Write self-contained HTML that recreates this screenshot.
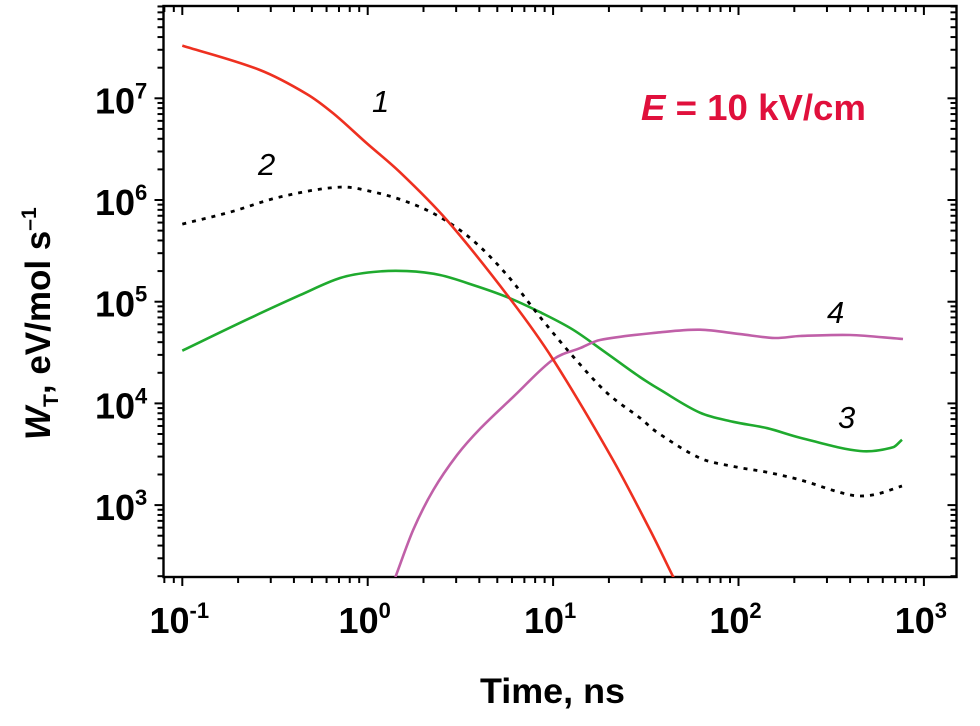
<!DOCTYPE html>
<html><head><meta charset="utf-8"><style>
html,body{margin:0;padding:0;background:#fff;}
svg{display:block;font-family:"Liberation Sans",Arial,sans-serif;}
</style></head><body>
<svg id="chart" width="980" height="726" viewBox="0 0 980 726">
<defs><clipPath id="plotclip"><rect x="163.5" y="6" width="793" height="571"/></clipPath></defs>
<g id="axes"></g>
<g id="series" clip-path="url(#plotclip)"></g>
<text x="372" y="112" font-size="31" font-style="italic">1</text>
<text x="258" y="175" font-size="31" font-style="italic">2</text>
<text x="838" y="428" font-size="31" font-style="italic">3</text>
<text x="827" y="323" font-size="31" font-style="italic">4</text>
<text x="641" y="120" font-size="36" font-weight="bold" fill="#e0103c" textLength="225" lengthAdjust="spacingAndGlyphs"><tspan font-style="italic">E</tspan> = 10 kV/cm</text>
<text x="480" y="703" font-size="35" font-weight="bold" textLength="145" lengthAdjust="spacingAndGlyphs">Time, ns</text>
<text transform="translate(50,440) rotate(-90)" font-size="35" font-weight="bold"><tspan font-style="italic">W</tspan><tspan font-size="21" dy="8">T</tspan><tspan dy="-8">, eV/mol s</tspan><tspan font-size="21" dy="-14">–1</tspan></text>
</svg>
<script>
// ---- data ----
const s1_t = [0.1, 0.262, 0.47, 0.652, 0.99, 1.49, 2.68, 5.93, 10, 21, 33.3, 44.9];
const s1_w = [3.3e7, 1.9e7, 1.1e7, 7.1e6, 3.6e6, 1.88e6, 6.3e5, 1.04e5, 2.7e4, 2.8e3, 570, 190];
const s2_t = [0.1, 0.181, 0.336, 0.71, 1.07, 1.63, 2.45, 3.70, 5.64, 8.49, 12.8, 19.5, 29.4, 36.4, 62, 93.5, 143, 215, 400, 532, 762];
const s2_w = [5.8e5, 7.6e5, 1.07e6, 1.34e6, 1.2e6, 9.6e5, 6.8e5, 4.0e5, 1.83e5, 7.1e4, 2.9e4, 1.27e4, 7.2e3, 5.2e3, 2.9e3, 2.4e3, 2.1e3, 1.77e3, 1.26e3, 1.26e3, 1.54e3];
const s3_t = [0.1, 0.232, 0.432, 0.71, 1.07, 1.63, 2.45, 3.70, 5.64, 8.49, 12.8, 19.5, 29.4, 37.8, 62, 93.5, 143, 215, 452, 681, 762];
const s3_w = [3.3e4, 6.9e4, 1.16e5, 1.71e5, 1.96e5, 2.0e5, 1.83e5, 1.46e5, 1.11e5, 7.9e4, 5.3e4, 3.1e4, 1.82e4, 1.36e4, 8.1e3, 6.6e3, 5.7e3, 4.6e3, 3.4e3, 3.7e3, 4.4e3];
const s4_t = [1.41, 1.76, 2.26, 3.04, 4.05, 6.1, 10, 14, 17.9, 37.8, 62, 102, 157, 215, 400, 771];
const s4_w = [196, 570, 1410, 3120, 5660, 1.16e4, 2.7e4, 3.5e4, 4.2e4, 5.0e4, 5.3e4, 4.8e4, 4.4e4, 4.6e4, 4.7e4, 4.3e4];
const xTickExp = [-1, 0, 1, 2, 3];
const yTickExp = [3, 4, 5, 6, 7];

// ---- scales ----
const X0 = 182.3, XD = 185.4, Y0 = 98.3, YD = 101.7;
const L = 163.5, R = 956.5, T = 6, B = 577;
function sx(t){ return X0 + (Math.log10(t) + 1) * XD; }
function sy(w){ return Y0 + (7 - Math.log10(w)) * YD; }
const NS = "http://www.w3.org/2000/svg";
const axes = document.getElementById('axes');
const series = document.getElementById('series');
function mk(tag, attrs, parent){ const e = document.createElementNS(NS, tag); for (const k in attrs) e.setAttribute(k, attrs[k]); parent.appendChild(e); return e; }

const frame = mk('rect', {x:L, y:T, width:R-L, height:B-T, fill:'none', stroke:'#000', 'stroke-width':2.4}, axes);



for (let e = -2; e <= 3; e++) {
  for (let m = 1; m <= 9; m++) {
    const x = sx(m * Math.pow(10, e));
    if (x < L || x > R) continue;
    const len = m === 1 ? 9 : 6;
    const tb = mk('line', {x1:x, y1:B, x2:x, y2:B+len, stroke:'#000', 'stroke-width':2}, axes);
    
    
    const tt = mk('line', {x1:x, y1:T, x2:x, y2:T+len, stroke:'#000', 'stroke-width':2}, axes);
    
    
  }
}
for (let e = 2; e <= 7; e++) {
  for (let m = 1; m <= 9; m++) {
    const y = sy(m * Math.pow(10, e));
    if (y < T || y > B) continue;
    const len = m === 1 ? 9 : 6;
    const tl = mk('line', {x1:L-len, y1:y, x2:L, y2:y, stroke:'#000', 'stroke-width':2}, axes);
    
    
    const tr = mk('line', {x1:R-len, y1:y, x2:R, y2:y, stroke:'#000', 'stroke-width':2}, axes);
    
    
  }
}
xTickExp.forEach(e => {
  const t = mk('text', {x:sx(Math.pow(10,e)) - 3, y:633, 'font-size':36, 'font-weight':'bold', 'text-anchor':'middle'}, axes);
  
  
  t.innerHTML = '10<tspan font-size="22" dy="-15">' + (e < 0 ? '-' + (-e) : e) + '</tspan>';
});
yTickExp.forEach(e => {
  const t = mk('text', {x:95, y:sy(Math.pow(10,e)) + 15, 'font-size':36, 'font-weight':'bold'}, axes);
  
  
  t.innerHTML = '10<tspan font-size="22" dy="-15">' + e + '</tspan>';
});

// smooth path: cubic Hermite with x as parameter
function pathFor(ts, ws){
  const p = ts.map((t,i) => [sx(t), sy(ws[i])]);
  const n = p.length, m = [];
  for (let i = 0; i < n; i++) {
    const a = p[Math.max(0,i-1)], b = p[Math.min(n-1,i+1)];
    m.push((b[1]-a[1])/(b[0]-a[0]));
  }
  let d = 'M' + p[0][0].toFixed(1) + ',' + p[0][1].toFixed(1);
  for (let i = 0; i < n - 1; i++) {
    const dx = (p[i+1][0]-p[i][0])/3;
    d += ' C' + (p[i][0]+dx).toFixed(1)+','+(p[i][1]+m[i]*dx).toFixed(1)+' '+(p[i+1][0]-dx).toFixed(1)+','+(p[i+1][1]-m[i+1]*dx).toFixed(1)+' '+p[i+1][0].toFixed(1)+','+p[i+1][1].toFixed(1);
  }
  return d;
}
const l3 = mk('path', {d:pathFor(s3_t, s3_w), fill:'none', stroke:'#1faa2e', 'stroke-width':2.6}, series);


const l4 = mk('path', {d:pathFor(s4_t, s4_w), fill:'none', stroke:'#c060a8', 'stroke-width':2.6}, series);


const l2 = mk('path', {d:pathFor(s2_t, s2_w), fill:'none', stroke:'#000', 'stroke-width':2.8, 'stroke-dasharray':'4 6'}, series);


const l1 = mk('path', {d:pathFor(s1_t, s1_w), fill:'none', stroke:'#ee3020', 'stroke-width':2.6}, series);


</script>
</body></html>
